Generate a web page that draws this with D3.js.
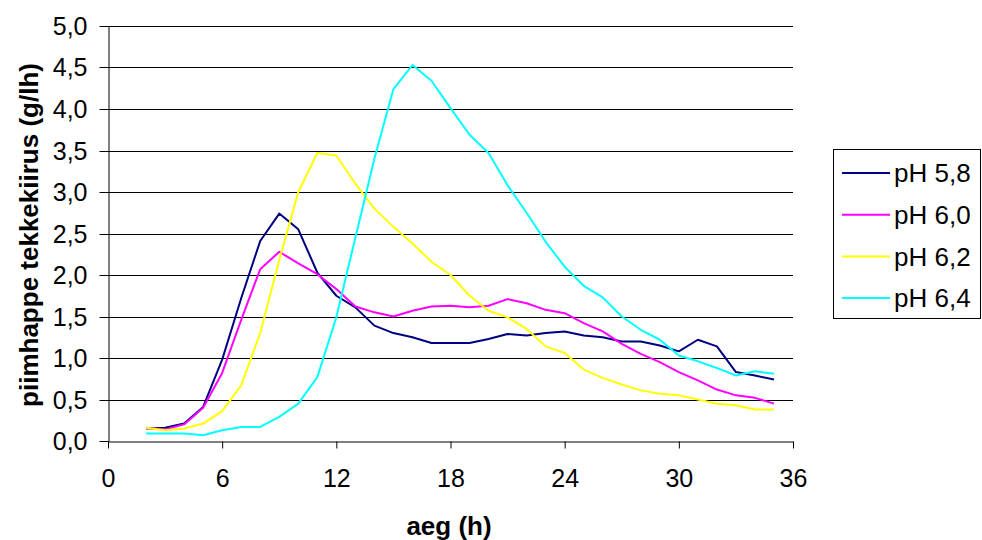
<!DOCTYPE html>
<html>
<head>
<meta charset="utf-8">
<script src="https://cdn.jsdelivr.net/npm/d3@7"></script>
<style>
  html, body { margin: 0; padding: 0; background: #fff; }
  svg { display: block; font-family: "Liberation Sans", Arial, sans-serif; }
</style>
</head>
<body>
<div id="viz"></div>
<script>
const hours = [2,3,4,5,6,7,8,9,10,11,12,13,14,15,16,17,18,19,20,21,22,23,24,25,26,27,28,29,30,31,32,33,34,35];
const ph58 = [0.15,0.16,0.21,0.41,0.98,1.72,2.41,2.74,2.55,2.03,1.75,1.61,1.39,1.30,1.25,1.18,1.18,1.18,1.23,1.29,1.27,1.30,1.32,1.27,1.25,1.20,1.20,1.15,1.08,1.22,1.14,0.83,0.79,0.74];
const ph60 = [0.16,0.14,0.20,0.40,0.82,1.46,2.07,2.28,2.14,2.01,1.83,1.62,1.55,1.50,1.57,1.62,1.63,1.61,1.63,1.71,1.66,1.58,1.54,1.42,1.32,1.17,1.05,0.95,0.83,0.73,0.62,0.55,0.52,0.45];
const ph62 = [0.16,0.13,0.15,0.21,0.36,0.67,1.30,2.18,3.00,3.47,3.44,3.10,2.80,2.58,2.38,2.16,2.00,1.75,1.57,1.49,1.35,1.14,1.06,0.86,0.76,0.68,0.61,0.57,0.55,0.50,0.45,0.43,0.38,0.38];
const ph64 = [0.09,0.09,0.09,0.07,0.13,0.17,0.17,0.29,0.45,0.77,1.49,2.45,3.40,4.24,4.53,4.34,4.01,3.69,3.47,3.08,2.75,2.40,2.10,1.87,1.73,1.50,1.34,1.22,1.03,0.96,0.88,0.79,0.84,0.81];
const seriesNames = ['pH 5,8', 'pH 6,0', 'pH 6,2', 'pH 6,4'];
const seriesColors = ['#000080', '#ff00ff', '#ffff00', '#00ffff'];
const xTicks = [0,6,12,18,24,30,36];
const yTicks = [0,0.5,1,1.5,2,2.5,3,3.5,4,4.5,5];

const width = 982, height = 540;
const plotLeft = 108, plotRight = 793, plotTop = 26, plotBottom = 441;
const fontFamily = '"Liberation Sans", Arial, sans-serif';

const svg = d3.select('#viz').append('svg')
  .attr('width', width)
  .attr('height', height);

const x = d3.scaleLinear().domain([0, 36]).range([plotLeft, plotRight]);
const y = d3.scaleLinear().domain([0, 5]).range([plotBottom, plotTop]);
const fmt = d => d3.format('.1f')(d).replace('.', ',');

// horizontal gridlines
svg.append('g')
  .selectAll('line')
  .data(yTicks.slice(1))
  .join('line')
  .attr('x1', plotLeft).attr('x2', plotRight)
  .attr('y1', d => Math.round(y(d)) + 0.5)
  .attr('y2', d => Math.round(y(d)) + 0.5)
  .attr('stroke', '#000')
  .attr('stroke-width', 1);

// y axis
const yAxis = svg.append('g')
  .attr('transform', `translate(${plotLeft + 0.5},0)`)
  .call(d3.axisLeft(y).tickValues(yTicks).tickFormat(fmt).tickSize(9).tickPadding(12).tickSizeOuter(0));
yAxis.selectAll('text').attr('font-size', 25).attr('fill', '#000').attr('font-family', fontFamily);
yAxis.selectAll('line, path').attr('stroke', '#000');
yAxis.selectAll('.tick').attr('transform', d => `translate(0,${Math.round(y(d)) + 0.5})`);

// x axis
const xAxis = svg.append('g')
  .attr('transform', `translate(0,${plotBottom + 0.5})`)
  .call(d3.axisBottom(x).tickValues(xTicks).tickSize(7).tickSizeOuter(0));
xAxis.selectAll('text')
  .attr('font-size', 25).attr('fill', '#000').attr('font-family', fontFamily)
  .attr('y', 45).attr('dy', 0);
xAxis.selectAll('line, path').attr('stroke', '#000');

// series lines
const allSeries = [ph58, ph60, ph62, ph64];
const line = d3.line()
  .x((d, i) => x(hours[i]))
  .y(d => y(d));
svg.append('g')
  .selectAll('path')
  .data(allSeries)
  .join('path')
  .attr('d', d => line(d))
  .attr('fill', 'none')
  .attr('stroke', (d, i) => seriesColors[i])
  .attr('stroke-width', 2)
  .attr('stroke-linejoin', 'round');

// axis titles
svg.append('text')
  .attr('transform', `translate(37.5,235) rotate(-90)`)
  .attr('text-anchor', 'middle')
  .attr('font-size', 26)
  .attr('font-weight', 'bold')
  .text('piimhappe tekkekiirus (g/lh)');

svg.append('text')
  .attr('x', 449)
  .attr('y', 535)
  .attr('text-anchor', 'middle')
  .attr('font-size', 26)
  .attr('font-weight', 'bold')
  .text('aeg (h)');

// legend
const legend = svg.append('g');
legend.append('rect')
  .attr('x', 833.5).attr('y', 149.5)
  .attr('width', 147).attr('height', 169)
  .attr('fill', '#fff')
  .attr('stroke', '#000')
  .attr('stroke-width', 1);
const rows = legend.selectAll('g.row')
  .data(seriesNames)
  .join('g')
  .attr('class', 'row')
  .attr('transform', (d, i) => `translate(0,${173 + i * 41.7})`);
rows.append('line')
  .attr('x1', 842).attr('x2', 890)
  .attr('y1', 0).attr('y2', 0)
  .attr('stroke', (d, i) => seriesColors[i])
  .attr('stroke-width', 2);
rows.append('text')
  .attr('x', 894)
  .attr('y', 9.3)
  .attr('font-size', 26)
  .text(d => d);
</script>
</body>
</html>
